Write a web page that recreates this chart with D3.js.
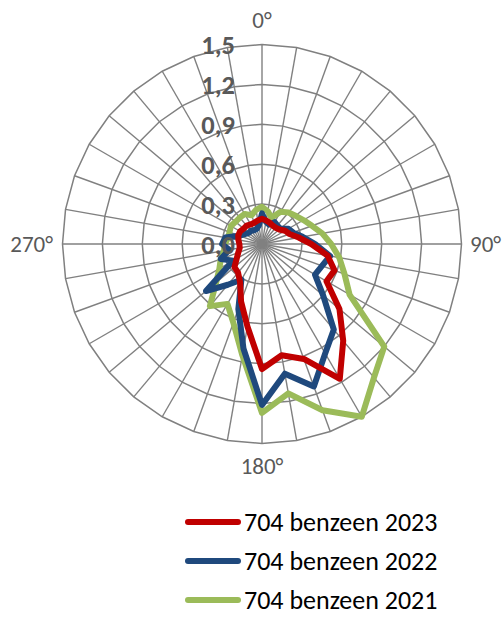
<!DOCTYPE html>
<html><head><meta charset="utf-8">
<script src="https://cdn.jsdelivr.net/npm/d3@7"></script>
<style>body{margin:0;background:#fff}svg{display:block}</style>
</head><body>
<svg id="chart" width="503" height="619"></svg>
<script>
// ---- data ----
const directions = d3.range(0, 360, 10);           // wind directions (degrees)
const tickValues = [0, 0.3, 0.6, 0.9, 1.2, 1.5];
const tickLabels = ["0,0", "0,3", "0,6", "0,9", "1,2", "1,5"];
const axisDegrees = [0, 90, 180, 270];
const axisLabels = ["0°", "90°", "180°", "270°"];
const seriesNames = ["704 benzeen 2023", "704 benzeen 2022", "704 benzeen 2021"];
const seriesColors = ["#C00000", "#1F497D", "#9BBB59"];
const values2023 = [0.19,0.18,0.17,0.16,0.16,0.17,0.20,0.22,0.28,0.37,0.50,0.58,0.56,0.76,0.95,1.17,0.92,0.85,0.94,0.63,0.46,0.33,0.28,0.27,0.22,0.19,0.17,0.17,0.18,0.19,0.19,0.18,0.18,0.17,0.17,0.18];
const values2022 = [0.23,0.17,0.155,0.19,0.18,0.18,0.23,0.25,0.31,0.40,0.52,0.48,0.46,0.60,0.84,0.95,1.14,0.99,1.21,0.80,0.52,0.31,0.40,0.55,0.25,0.33,0.25,0.30,0.28,0.18,0.15,0.13,0.13,0.12,0.12,0.14];
const values2021 = [0.28,0.25,0.21,0.28,0.31,0.33,0.36,0.40,0.46,0.52,0.59,0.66,0.76,1.20,1.31,1.50,1.33,1.14,1.27,0.85,0.63,0.52,0.61,0.45,0.37,0.33,0.29,0.28,0.26,0.26,0.27,0.26,0.26,0.26,0.23,0.26];
const seriesValues = [values2023, values2022, values2021];

// ---- layout ----
const svg = d3.select("#chart");
const cx = 262, cy = 244, R = 199.5;
const r = d3.scaleLinear().domain([0, 1.5]).range([0, R]);
const ang = d3.scaleLinear().domain([0, 360]).range([0, 2 * Math.PI]);
const font = "Carlito, Lato, 'Open Sans', sans-serif";
const grid = "#808080";

const g = svg.append("g").attr("transform", `translate(${cx},${cy})`);
const pt = (deg, v) => [Math.sin(ang(deg)) * r(v), -Math.cos(ang(deg)) * r(v)];

// polygon gridlines
const ringLine = d3.line().curve(d3.curveLinearClosed);
g.selectAll("path.ring").data(tickValues.slice(1)).join("path")
  .attr("class", "ring")
  .attr("d", t => ringLine(directions.map(d => pt(d, t))))
  .attr("fill", "none").attr("stroke", grid).attr("stroke-width", 1.5);

// spokes
g.selectAll("line.spoke").data(directions).join("line")
  .attr("class", "spoke")
  .attr("x1", 0).attr("y1", 0)
  .attr("x2", d => pt(d, 1.5)[0]).attr("y2", d => pt(d, 1.5)[1])
  .attr("stroke", grid).attr("stroke-width", 1.4);

// series
const radial = d3.lineRadial()
  .angle((v, i) => ang(directions[i]))
  .radius(v => r(v))
  .curve(d3.curveLinearClosed);
const order = [2, 1, 0];
g.selectAll("path.series").data(order).join("path")
  .attr("class", "series")
  .attr("d", k => radial(seriesValues[k]))
  .attr("fill", "none")
  .attr("stroke", k => seriesColors[k])
  .attr("stroke-width", 6)
  .attr("stroke-linejoin", "round");

// tick labels
g.selectAll("text.tick").data(tickValues).join("text")
  .attr("class", "tick")
  .attr("x", -27).attr("y", t => -r(t))
  .attr("dy", "0.36em")
  .attr("text-anchor", "end")
  .attr("font-family", font).attr("font-weight", "bold")
  .attr("font-size", 26.5).attr("fill", "#595959")
  .text((t, i) => tickLabels[i]);

// axis direction labels
const labelPos = [
  {x: 0, y: -224, anchor: "middle"},
  {x: 208, y: 0, anchor: "start"},
  {x: 0, y: 222, anchor: "middle"},
  {x: -209, y: 0, anchor: "end"}
];
g.selectAll("text.dir").data(axisDegrees).join("text")
  .attr("class", "dir")
  .attr("x", (d, i) => labelPos[i].x).attr("y", (d, i) => labelPos[i].y)
  .attr("dy", "0.36em")
  .attr("text-anchor", (d, i) => labelPos[i].anchor)
  .attr("font-family", font).attr("font-size", 23).attr("fill", "#595959")
  .text((d, i) => axisLabels[i]);

// legend
const legY = d3.scalePoint().domain(seriesNames).range([522, 600]);
const leg = svg.append("g");
leg.selectAll("line").data(seriesNames).join("line")
  .attr("x1", 188).attr("x2", 238)
  .attr("y1", d => legY(d)).attr("y2", d => legY(d))
  .attr("stroke", (d, i) => seriesColors[i])
  .attr("stroke-width", 6).attr("stroke-linecap", "round");
leg.selectAll("text").data(seriesNames).join("text")
  .attr("x", 244).attr("y", d => legY(d)).attr("dy", "0.36em")
  .attr("font-family", font).attr("font-size", 26).attr("fill", "#000")
  .text(d => d);
</script>
</body></html>
